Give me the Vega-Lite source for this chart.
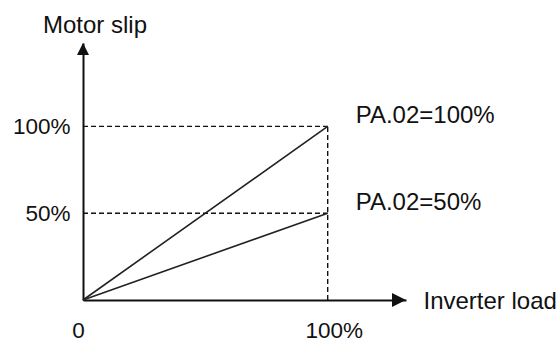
{
  "$schema": "https://vega.github.io/schema/vega-lite/v6.json",
  "width": 323,
  "height": 257,
  "autosize": {"type": "none"},
  "padding": {"left": 83, "top": 43, "right": 154, "bottom": 42},
  "background": "white",
  "config": {
    "view": {"stroke": null},
    "font": "Liberation Sans",
    "axis": {"grid": false, "ticks": false, "tickSize": 0, "domainColor": "#111", "domainWidth": 2, "labelColor": "#111", "titleColor": "#111", "labelFontSize": 22.5, "titleFontSize": 24, "titleFontWeight": "normal", "labelFont": "Liberation Sans", "titleFont": "Liberation Sans"}
  },
  "datasets": {
    "lines": [
      {"series": "PA.02=100%", "load": 0, "slip": 0},
      {"series": "PA.02=100%", "load": 100, "slip": 100},
      {"series": "PA.02=50%", "load": 0, "slip": 0},
      {"series": "PA.02=50%", "load": 100, "slip": 50}
    ],
    "guides": [
      {"load": 0, "slip": 100, "load2": 100, "slip2": 100},
      {"load": 0, "slip": 50, "load2": 100, "slip2": 50},
      {"load": 100, "slip": 0, "load2": 100, "slip2": 100}
    ],
    "ends": [
      {"series": "PA.02=100%", "load": 100, "slip": 100},
      {"series": "PA.02=50%", "load": 100, "slip": 50}
    ],
    "xarrow": [{"load": 132, "slip": 0}],
    "yarrow": [{"load": 0, "slip": 148}]
  },
  "encoding": {
    "x": {"field": "load", "type": "quantitative", "scale": {"domain": [0, 132], "nice": false, "zero": false},
      "axis": {"values": [0, 100], "labelExpr": "datum.value == 0 ? '0' : '100%'", "labelPadding": 19, "labelFlush": false, "labelOverlap": false,
        "labelOffset": {"condition": {"test": "datum.value == 0", "value": -5}, "value": 6},
        "title": "Inverter load", "titleX": 340, "titleY": 1, "titleAlign": "left", "titleBaseline": "middle", "titleAnchor": null}},
    "y": {"field": "slip", "type": "quantitative", "scale": {"domain": [0, 148], "nice": false, "zero": false},
      "axis": {"values": [50, 100], "labelExpr": "datum.value + '%'", "labelPadding": 13, "labelFlush": false, "labelOverlap": false,
        "title": "Motor slip", "titleAngle": 0, "titleX": 11.5, "titleY": -11, "titleAlign": "center", "titleBaseline": "alphabetic", "titleAnchor": null}}
  },
  "layer": [
    {
      "data": {"name": "guides"},
      "mark": {"type": "rule", "color": "#111", "strokeWidth": 1.4, "strokeDash": [5, 3]},
      "encoding": {"x2": {"field": "load2"}, "y2": {"field": "slip2"}}
    },
    {
      "data": {"name": "lines"},
      "mark": {"type": "line", "color": "#222", "strokeWidth": 1.6},
      "encoding": {"detail": {"field": "series"}}
    },
    {
      "data": {"name": "ends"},
      "mark": {"type": "text", "align": "left", "baseline": "middle", "dx": 28, "dy": -10, "fontSize": 24, "color": "#111", "font": "Liberation Sans"},
      "encoding": {"text": {"field": "series"}}
    },
    {
      "data": {"name": "xarrow"},
      "mark": {"type": "point", "shape": "M0,0L-2,-1L-2,1Z", "size": 196, "filled": true, "color": "#111", "opacity": 1, "strokeWidth": 0}
    },
    {
      "data": {"name": "yarrow"},
      "mark": {"type": "point", "shape": "M0,0L-1,2L1,2Z", "size": 144, "filled": true, "color": "#111", "opacity": 1, "strokeWidth": 0}
    }
  ]
}
